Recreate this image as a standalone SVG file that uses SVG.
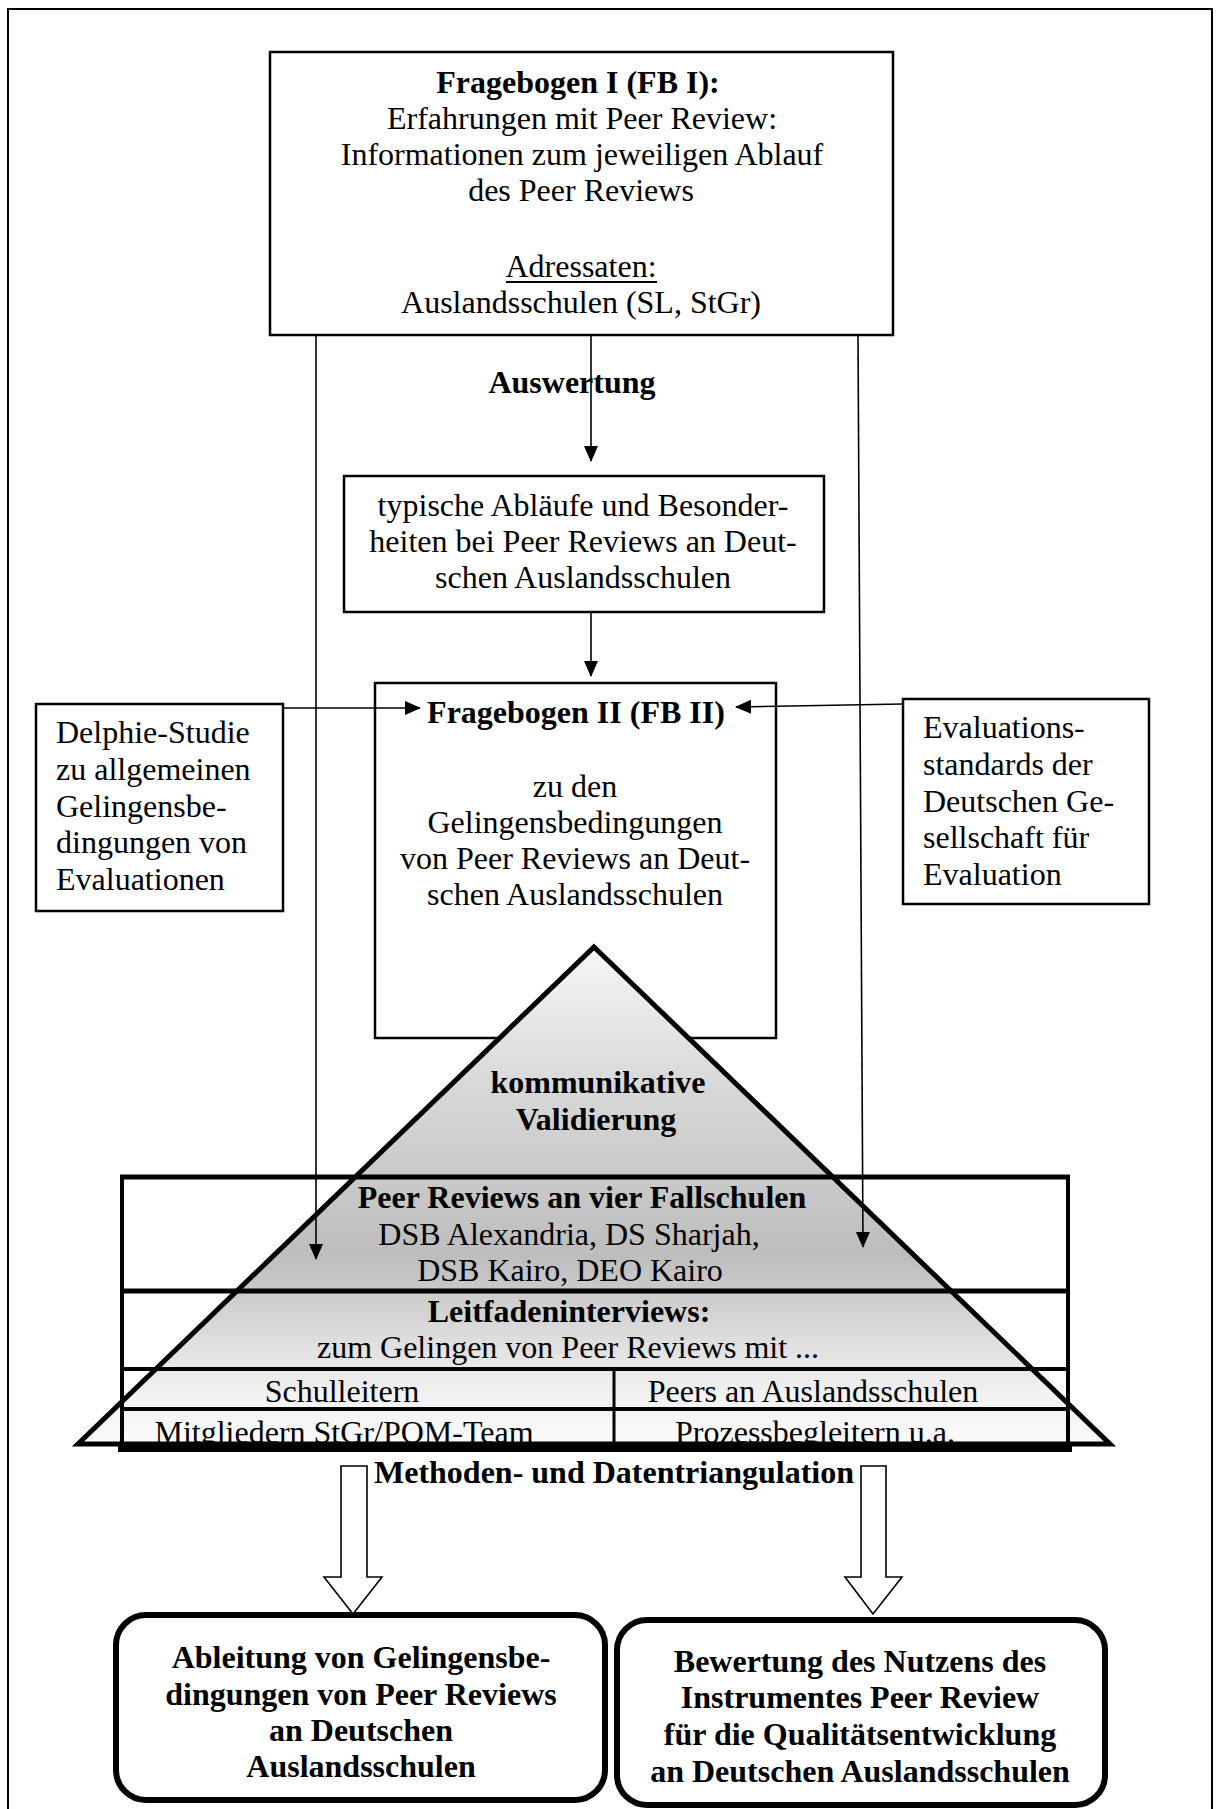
<svg xmlns="http://www.w3.org/2000/svg" width="1216" height="1809" viewBox="0 0 1216 1809">
  <style>
    text { font-family: "Liberation Serif", "Times New Roman", serif; font-size: 32px; fill: #000; }
    .b { font-weight: bold; }
    .c { text-anchor: middle; }
    .box { fill: #fff; stroke: #000; stroke-width: 2.5; }
    .wire { fill: none; stroke: #000; stroke-width: 1.6; }
    .rule { stroke: #000; fill: none; }
    .result { fill: #fff; stroke: #000; stroke-width: 6; }
    .hollow { fill: #fff; stroke: #000; stroke-width: 1.6; stroke-linejoin: miter; }
  </style>
  <defs>
    <marker id="head" markerUnits="userSpaceOnUse" markerWidth="16" markerHeight="16" viewBox="0 0 16 14" refX="15" refY="7" orient="auto">
      <path d="M0,0 L16,7 L0,14 Z" fill="#000"/>
    </marker>
    <linearGradient id="pyramidFill" gradientUnits="userSpaceOnUse" x1="0" y1="947" x2="0" y2="1446">
      <stop offset="0" stop-color="#f6f6f6"/>
      <stop offset="0.3" stop-color="#d6d6d6"/>
      <stop offset="0.62" stop-color="#bdbdbd"/>
      <stop offset="0.8" stop-color="#e0e0e0"/>
      <stop offset="0.9" stop-color="#f2f2f2"/>
      <stop offset="1" stop-color="#fbfbfb"/>
    </linearGradient>
  </defs>

  <rect width="1216" height="1809" fill="#fff"/>

  <!-- page frame, bottom edge runs off the sheet -->
  <rect x="8" y="9" width="1204" height="1820" fill="none" stroke="#000" stroke-width="2"/>

  <!-- questionnaire I -->
  <g id="fb1">
    <rect class="box" x="270" y="52" width="623" height="283"/>
    <text class="c b" x="578" y="93">Fragebogen I (FB I):</text>
    <text class="c" x="582" y="129">Erfahrungen mit Peer Review:</text>
    <text class="c" x="582" y="165">Informationen zum jeweiligen Ablauf</text>
    <text class="c" x="581" y="201">des Peer Reviews</text>
    <text class="c" x="581" y="277">Adressaten:</text>
    <line x1="506" y1="282" x2="657" y2="282" stroke="#000" stroke-width="2"/>
    <text class="c" x="581" y="313">Auslandsschulen (SL, StGr)</text>
  </g>

  <g id="auswertung">
    <text class="c b" x="572" y="393">Auswertung</text>
  </g>

  <g id="ablaeufe">
    <rect class="box" x="344" y="476" width="480" height="136"/>
    <text class="c" x="583" y="516">typische Abläufe und Besonder-</text>
    <text class="c" x="583" y="552">heiten bei Peer Reviews an Deut-</text>
    <text class="c" x="583" y="588">schen Auslandsschulen</text>
  </g>

  <g id="delphi">
    <rect class="box" x="36" y="704" width="247" height="207"/>
    <text x="56" y="743">Delphie-Studie</text>
    <text x="56" y="780">zu allgemeinen</text>
    <text x="56" y="817">Gelingensbe-</text>
    <text x="56" y="853">dingungen von</text>
    <text x="56" y="890">Evaluationen</text>
  </g>

  <g id="standards">
    <rect class="box" x="903" y="699" width="246" height="205"/>
    <text x="923" y="738">Evaluations-</text>
    <text x="923" y="775">standards der</text>
    <text x="923" y="812">Deutschen Ge-</text>
    <text x="923" y="848">sellschaft für</text>
    <text x="923" y="885">Evaluation</text>
  </g>

  <g id="fb2">
    <rect class="box" x="375" y="683" width="401" height="355"/>
    <text class="c b" x="576" y="723">Fragebogen II (FB II)</text>
    <text class="c" x="575" y="797">zu den</text>
    <text class="c" x="575" y="833">Gelingensbedingungen</text>
    <text class="c" x="575" y="869">von Peer Reviews an Deut-</text>
    <text class="c" x="575" y="905">schen Auslandsschulen</text>
  </g>

  <!-- validation pyramid -->
  <g id="pyramide">
    <polygon points="594,947 1110,1444 78,1444" fill="url(#pyramidFill)" stroke="#000" stroke-width="5" stroke-linejoin="miter"/>
    <text class="c b" x="598" y="1093">kommunikative</text>
    <text class="c b" x="596" y="1130">Validierung</text>
  </g>

  <!-- case-study table laid over the pyramid -->
  <g id="fallschulen">
    <line class="rule" x1="120" y1="1177" x2="1070" y2="1177" stroke-width="5"/>
    <line class="rule" x1="120" y1="1291" x2="1070" y2="1291" stroke-width="5"/>
    <line class="rule" x1="120" y1="1369" x2="1070" y2="1369" stroke-width="4"/>
    <line class="rule" x1="120" y1="1409" x2="1070" y2="1409" stroke-width="4"/>
    <line class="rule" x1="118" y1="1448" x2="1072" y2="1448" stroke-width="8"/>
    <line class="rule" x1="122" y1="1175" x2="122" y2="1450" stroke-width="4"/>
    <line class="rule" x1="1068" y1="1175" x2="1068" y2="1450" stroke-width="4"/>
    <line class="rule" x1="614" y1="1369" x2="614" y2="1448" stroke-width="3"/>
    <text class="c b" x="582" y="1208">Peer Reviews an vier Fallschulen</text>
    <text class="c" x="569" y="1245">DSB Alexandria, DS Sharjah,</text>
    <text class="c" x="570" y="1281">DSB Kairo, DEO Kairo</text>
    <text class="c b" x="569" y="1322">Leitfadeninterviews:</text>
    <text class="c" x="568" y="1358">zum Gelingen von Peer Reviews mit ...</text>
    <text class="c" x="342" y="1402">Schulleitern</text>
    <text class="c" x="813" y="1402">Peers an Auslandsschulen</text>
    <text class="c" x="344" y="1443">Mitgliedern StGr/PQM-Team</text>
    <text class="c" x="815" y="1443">Prozessbegleitern u.a.</text>
    <line class="rule" x1="118" y1="1448" x2="1072" y2="1448" stroke-width="8"/>
  </g>

  <g id="triangulation">
    <text class="c b" x="614" y="1483">Methoden- und Datentriangulation</text>
  </g>

  <g id="ableitung">
    <rect class="result" x="116" y="1615" width="489" height="185" rx="30" ry="30"/>
    <text class="c b" x="361" y="1668">Ableitung von Gelingensbe-</text>
    <text class="c b" x="361" y="1705">dingungen von Peer Reviews</text>
    <text class="c b" x="361" y="1741">an Deutschen</text>
    <text class="c b" x="361" y="1777">Auslandsschulen</text>
  </g>

  <g id="bewertung">
    <rect class="result" x="617" y="1620" width="488" height="185" rx="30" ry="30"/>
    <text class="c b" x="860" y="1672">Bewertung des Nutzens des</text>
    <text class="c b" x="860" y="1708">Instrumentes Peer Review</text>
    <text class="c b" x="860" y="1745">für die Qualitätsentwicklung</text>
    <text class="c b" x="860" y="1782">an Deutschen Auslandsschulen</text>
  </g>

  <!-- connectors -->
  <g id="connectors">
    <line class="wire" x1="591" y1="335" x2="591" y2="461" marker-end="url(#head)"/>
    <line class="wire" x1="591" y1="612" x2="591" y2="676" marker-end="url(#head)"/>
    <line class="wire" x1="316" y1="335" x2="316" y2="1259" marker-end="url(#head)"/>
    <line class="wire" x1="858" y1="335" x2="863" y2="1247" marker-end="url(#head)"/>
    <line class="wire" x1="283" y1="708" x2="420" y2="708" marker-end="url(#head)"/>
    <line class="wire" x1="903" y1="704" x2="736" y2="707" marker-end="url(#head)"/>
    <polygon class="hollow" points="341,1466 367,1466 367,1577 382,1577 353,1614 324,1577 341,1577"/>
    <polygon class="hollow" points="861,1466 886,1466 886,1577 902,1577 873,1614 845,1577 861,1577"/>
  </g>
</svg>
